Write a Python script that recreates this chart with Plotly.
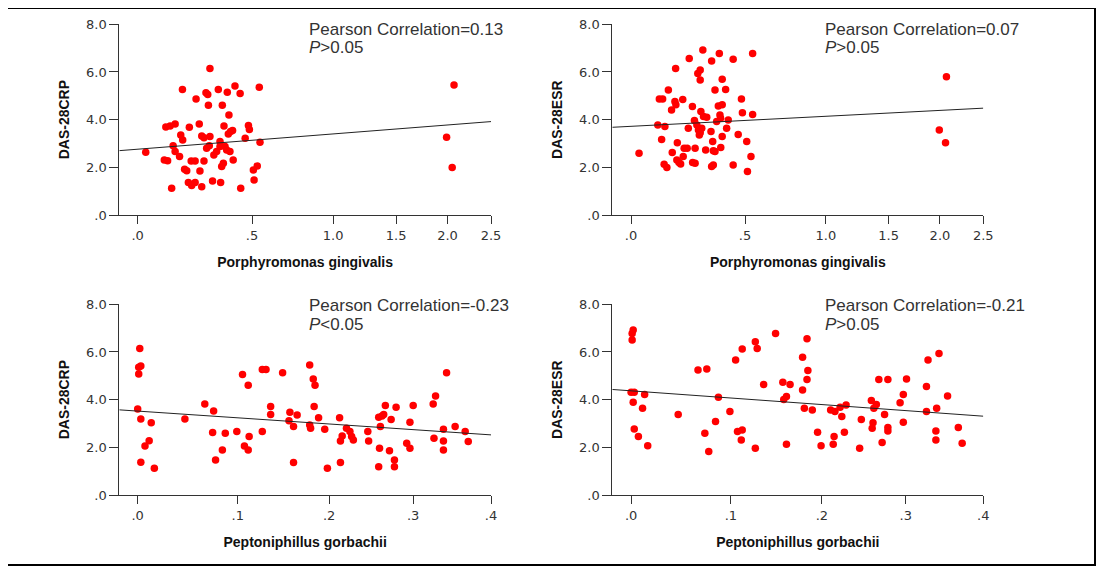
import numpy as np
import plotly.graph_objects as go

# ---------------- data ----------------
# Panel A: Porphyromonas gingivalis vs DAS-28CRP
pg_crp_x = [0.029,0.105,0.122,0.142,0.099,0.112,0.128,0.134,0.142,0.172,0.165,0.173,0.160,0.181,0.190,0.201,0.197,0.211,0.226,0.209,
            0.226,0.230,0.244,0.247,0.255,0.265,0.255,0.265,0.274,0.282,0.285,0.277,0.289,0.292,0.292,0.304,0.310,0.323,0.331,0.339,
            0.339,0.342,0.350,0.347,0.355,0.358,0.363,0.371,0.374,0.379,0.390,0.400,0.382,0.387,0.403,0.412,0.438,0.441,0.464,0.481,
            0.486,0.507,0.511,0.528,0.539,0.543,1.99,2.07,2.05]
pg_crp_y = [2.63,3.69,3.73,3.82,2.31,2.28,1.12,2.91,2.66,5.27,3.36,3.15,2.45,1.92,1.86,3.68,1.36,1.24,1.36,2.27,
            2.27,4.87,3.82,1.85,3.31,3.24,1.19,2.27,5.13,5.06,4.60,2.80,2.91,6.15,3.29,1.43,2.52,2.66,5.27,3.08,
            2.87,1.36,4.60,2.03,2.17,3.73,2.87,2.73,5.15,3.40,3.50,3.54,4.20,2.66,2.31,5.41,5.10,1.12,3.22,3.75,
            3.59,1.89,1.47,2.06,5.36,3.05,3.26,5.45,1.99]

# Panel B: Porphyromonas gingivalis vs DAS-28ESR
pg_esr_x = [0.029,0.100,0.106,0.119,0.115,0.128,0.125,0.136,0.142,0.155,0.169,0.173,0.172,0.158,0.179,0.177,0.186,0.193,0.202,0.204,
            0.208,0.221,0.226,0.230,0.244,0.245,0.256,0.253,0.256,0.264,0.271,0.279,0.286,0.275,0.268,0.279,0.279,0.282,0.291,0.294,
            0.304,0.309,0.329,0.332,0.337,0.332,0.340,0.340,0.348,0.348,0.356,0.364,0.369,0.372,0.375,0.383,0.383,0.383,0.376,0.400,
            0.405,0.413,0.438,0.438,0.464,0.481,0.486,0.509,0.513,0.532,0.541,0.541,1.993,2.07,2.06]
pg_esr_y = [2.59,3.78,4.87,4.87,3.17,3.71,2.13,1.99,5.24,4.41,4.76,4.62,6.15,2.62,3.03,2.31,2.20,2.14,4.85,2.45,
            2.80,2.80,3.64,6.57,4.55,2.20,2.17,3.96,2.80,3.78,3.57,3.45,3.64,3.36,5.94,6.08,5.66,4.34,6.92,4.13,
            2.73,4.10,3.50,6.46,3.08,2.03,2.10,2.70,2.66,5.24,3.92,4.57,6.78,4.20,4.06,5.69,4.62,3.29,2.83,5.27,
            3.64,3.99,6.53,2.10,3.38,4.87,4.29,3.08,1.82,2.45,4.22,6.78,3.57,5.80,3.03]

# Panel C: Peptoniphillus gorbachii vs DAS-28CRP
pep_crp_x = [0.002,0.001,0.003,0.001,0.000,0.003,0.003,0.007,0.011,0.013,0.016,0.046,0.066,0.075,0.074,0.077,0.084,0.087,0.099,0.105,
             0.107,0.111,0.111,0.112,0.126,0.126,0.130,0.135,0.135,0.148,0.156,0.155,0.160,0.160,0.164,0.178,0.179,0.178,0.182,0.184,
             0.183,0.188,0.195,0.198,0.212,0.213,0.213,0.215,0.220,0.224,0.226,0.228,0.245,0.246,0.258,0.260,0.259,0.258,0.262,0.264,
             0.266,0.271,0.273,0.277,0.277,0.279,0.292,0.296,0.296,0.300,0.325,0.328,0.326,0.338,0.338,0.338,0.342,0.353,0.366,0.370]
pep_crp_y = [6.15,5.36,5.41,5.08,3.61,3.19,1.37,2.06,2.28,3.03,1.12,3.19,3.82,3.52,2.62,1.47,1.89,2.59,2.66,5.06,
             2.06,1.89,4.60,2.45,2.66,5.27,5.27,3.71,3.38,5.13,3.47,3.12,2.87,1.36,3.36,5.45,2.80,2.94,4.87,4.60,
             3.71,3.24,2.76,1.12,3.24,2.27,1.36,2.48,2.80,2.66,2.45,2.31,2.66,2.27,3.26,2.87,1.96,1.19,3.31,3.38,
             3.75,1.86,3.17,1.47,1.19,3.68,2.17,1.96,3.05,3.75,3.82,4.15,2.38,2.76,2.27,1.89,5.13,2.87,2.66,2.24]

# Panel D: Peptoniphillus gorbachii vs DAS-28ESR
pep_esr_x = [0.001,0.002,0.001,0.000,0.003,0.002,0.003,0.007,0.013,0.011,0.016,0.046,0.066,0.075,0.073,0.077,0.084,0.087,0.099,0.105,
             0.107,0.112,0.111,0.112,0.126,0.128,0.126,0.135,0.148,0.156,0.157,0.160,0.160,0.164,0.178,0.178,0.180,0.183,0.183,0.184,
             0.189,0.195,0.199,0.210,0.213,0.214,0.215,0.221,0.223,0.226,0.228,0.244,0.246,0.258,0.259,0.260,0.261,0.264,0.267,0.271,
             0.274,0.278,0.278,0.278,0.293,0.297,0.297,0.301,0.326,0.326,0.328,0.339,0.338,0.338,0.342,0.353,0.367,0.372]
pep_esr_y = [6.78,6.92,6.50,4.31,4.31,3.89,2.77,2.45,4.22,3.64,2.07,3.38,5.24,5.29,2.59,1.82,3.08,4.10,3.50,5.66,
             2.66,2.73,2.31,6.13,6.43,6.15,1.96,4.64,6.78,4.73,4.01,4.13,2.13,4.64,5.78,4.41,3.64,6.55,4.85,5.22,
             3.57,2.63,2.07,3.57,2.13,2.45,3.50,3.68,3.29,2.63,3.78,1.96,3.17,3.96,2.80,3.03,3.64,3.80,4.85,2.20,
             3.38,2.83,2.69,4.85,3.87,4.22,3.05,4.87,4.55,3.50,5.66,3.64,2.69,2.31,5.94,4.15,2.83,2.17]

# fitted lines (y = intercept + slope * log10(1 + x))
fit_intercept = [2.76, 3.72, 3.52, 4.37]
fit_slope = [2.13, 1.40, -6.83, -7.28]

# annotation texts
corr_text = ["Pearson Correlation=0.13", "Pearson Correlation=0.07",
             "Pearson Correlation=-0.23", "Pearson Correlation=-0.21"]
p_text = ["<i>P</i>&gt;0.05", "<i>P</i>&gt;0.05", "<i>P</i>&lt;0.05", "<i>P</i>&gt;0.05"]

# axis ticks / labels
pg_ticks = [0.0, 0.5, 1.0, 1.5, 2.0, 2.5]
pg_ticktext = [".0", ".5", "1.0", "1.5", "2.0", "2.5"]
pep_ticks = [0.0, 0.1, 0.2, 0.3, 0.4]
pep_ticktext = [".0", ".1", ".2", ".3", ".4"]
y_ticks = [0, 2, 4, 6, 8]
y_ticktext = [".0", "2.0", "4.0", "6.0", "8.0"]

x_titles = ["Porphyromonas gingivalis", "Porphyromonas gingivalis",
            "Peptoniphillus gorbachii", "Peptoniphillus gorbachii"]
y_titles = ["DAS-28CRP", "DAS-28ESR", "DAS-28CRP", "DAS-28ESR"]

# ---------------- layout geometry ----------------
# the page body has an 8px margin, so the figure starts at (8, 8) of the window
OX, OY = 8, 8
W, H = 1098, 561


def px(v):
    return (v - OX) / W


def py(v):
    return 1 - (v - OY) / H


x_dom = [(px(119.3), px(491)), (px(612.3), px(983.3)), (px(119.3), px(491)), (px(612.3), px(983.3))]
y_dom = [(py(215), py(24.3)), (py(215), py(24.3)), (py(495), py(304.3)), (py(495), py(304.3))]
# log10 range of (1 + x)
x_rng = [(-0.0283, np.log10(3.5)), (-0.0289, np.log10(3.5)),
         (-0.0076, np.log10(1.4)), (-0.0078, np.log10(1.4))]

panels = [(pg_crp_x, pg_crp_y, pg_ticks, pg_ticktext),
          (pg_esr_x, pg_esr_y, pg_ticks, pg_ticktext),
          (pep_crp_x, pep_crp_y, pep_ticks, pep_ticktext),
          (pep_esr_x, pep_esr_y, pep_ticks, pep_ticktext)]

ann_x = [px(306.7), px(823), px(306.7), px(823)]
ann_y1 = [py(29), py(29), py(305), py(305)]
ann_y2 = [py(48), py(48), py(324), py(324)]

AX_COL = "#333333"
tick_font = dict(family="DejaVu Sans, Arial, sans-serif", size=13, color="#333333")
title_font = dict(family="Liberation Sans, Arial, sans-serif", size=14, color="#111111")
ann_font = dict(family="Liberation Sans, Arial, sans-serif", size=17, color="#333333")

fig = go.Figure()
layout = dict(
    width=W, height=H,
    margin=dict(l=0, r=0, t=0, b=0),
    paper_bgcolor="white", plot_bgcolor="white",
    showlegend=False,
    annotations=[], shapes=[],
)

for i, (xs, ys, tv, tt) in enumerate(panels):
    n = i + 1
    xa = "x" if n == 1 else f"x{n}"
    ya = "y" if n == 1 else f"y{n}"
    xs1 = np.array(xs) + 1.0
    fig.add_trace(go.Scatter(
        x=xs1, y=ys, mode="markers", xaxis=xa, yaxis=ya,
        marker=dict(color="#ff0000", size=7.5, line=dict(width=0)),
        hoverinfo="x+y",
    ))
    u = np.linspace(x_rng[i][0], x_rng[i][1], 2)
    fig.add_trace(go.Scatter(
        x=10 ** u, y=fit_intercept[i] + fit_slope[i] * u, mode="lines",
        xaxis=xa, yaxis=ya, line=dict(color="#222222", width=1), hoverinfo="skip",
    ))
    xkey = "xaxis" if n == 1 else f"xaxis{n}"
    ykey = "yaxis" if n == 1 else f"yaxis{n}"
    layout[xkey] = dict(
        domain=list(x_dom[i]), anchor=ya, type="log", range=list(x_rng[i]),
        tickmode="array", tickvals=[t + 1 for t in tv], ticktext=tt,
        ticks="outside", ticklen=8, tickwidth=1, tickcolor=AX_COL,
        showline=True, linecolor=AX_COL, linewidth=1,
        showgrid=False, zeroline=False, tickfont=tick_font,
        title=dict(text="<b>" + x_titles[i] + "</b>", font=title_font, standoff=15),
        automargin=False, fixedrange=True,
    )
    layout[ykey] = dict(
        domain=list(y_dom[i]), anchor=xa, range=[0, 8],
        tickmode="array", tickvals=y_ticks, ticktext=y_ticktext,
        ticks="outside", ticklen=9, tickwidth=1, tickcolor=AX_COL,
        showline=True, linecolor=AX_COL, linewidth=1,
        showgrid=False, zeroline=False, tickfont=tick_font,
        title=dict(text="<b>" + y_titles[i] + "</b>", font=title_font, standoff=13),
        automargin=False, fixedrange=True,
    )
    layout["annotations"].append(dict(
        xref="paper", yref="paper", x=ann_x[i], y=ann_y1[i],
        xanchor="left", yanchor="middle", showarrow=False, text=corr_text[i], font=ann_font,
    ))
    layout["annotations"].append(dict(
        xref="paper", yref="paper", x=ann_x[i], y=ann_y2[i],
        xanchor="left", yanchor="middle", showarrow=False, text=p_text[i], font=ann_font,
    ))

# outer frame
layout["shapes"].append(dict(
    type="rect", xref="paper", yref="paper",
    x0=px(5), x1=px(1095), y0=py(565), y1=py(8),
    line=dict(color="black", width=2), fillcolor="rgba(0,0,0,0)", layer="below",
))

fig.update_layout(**layout)
fig.write_html("out.html")
